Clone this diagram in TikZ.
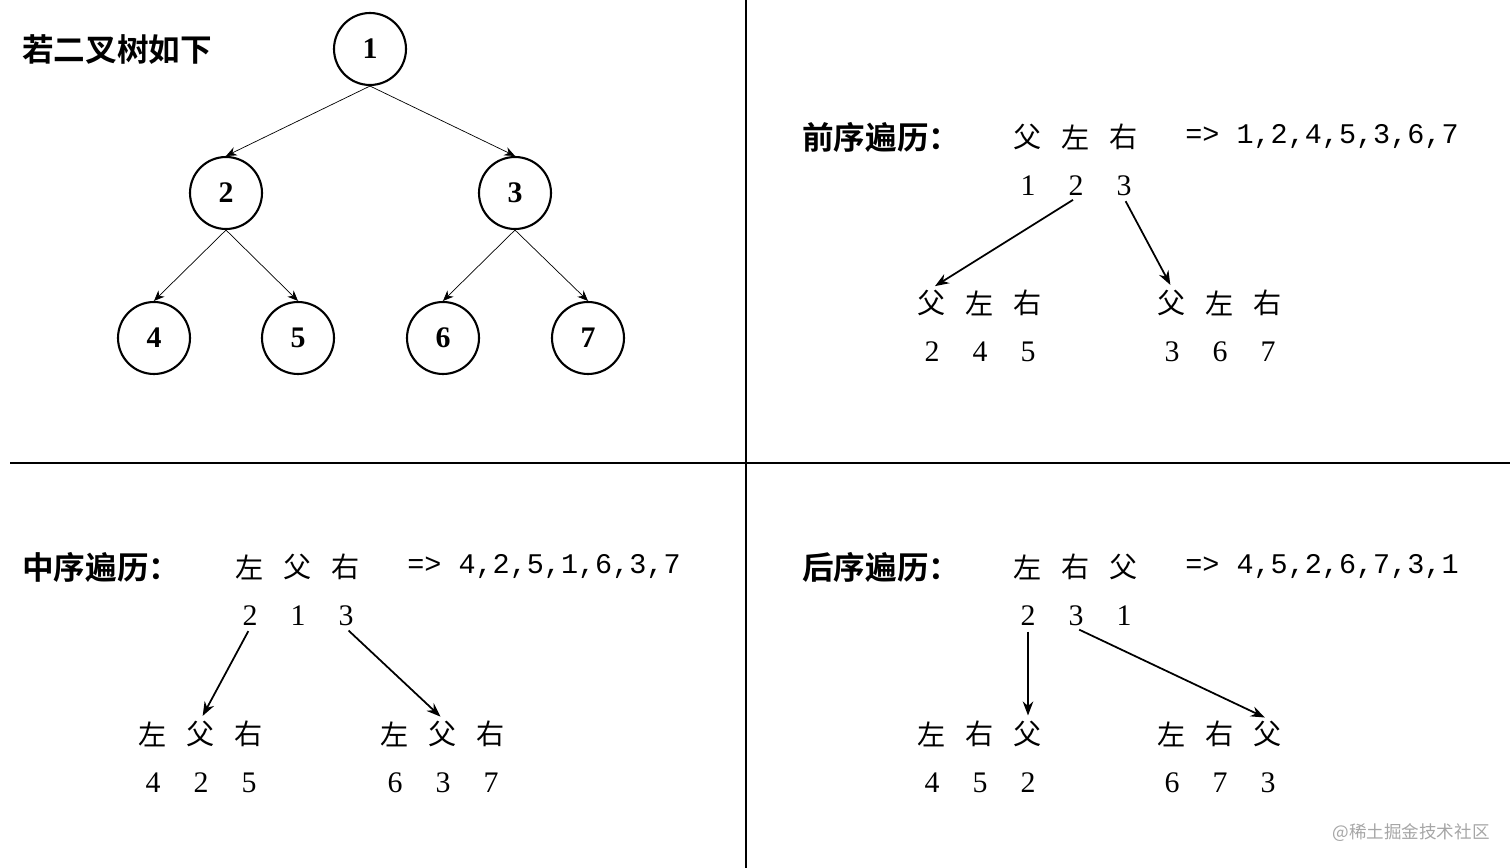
\documentclass[tikz,border=0pt]{standalone}
\usepackage{fontspec}
\setmainfont{Liberation Serif}
\newfontfamily\cjk{Noto Sans CJK SC}
\newfontfamily\cjkb{Noto Sans CJK SC Bold}
\newfontfamily\mono{Liberation Mono}
\usetikzlibrary{arrows.meta}

\begin{document}
\begin{tikzpicture}[x=0.02cm, y=-0.02cm,
    treenode/.style={circle, draw, line width=1.2pt, minimum size=1.44cm, inner sep=0pt, font=\fontsize{17}{20}\selectfont\bfseries},
    tedge/.style={draw, thin, -{Stealth[length=6pt, width=5pt]}},
    arr/.style={draw, line width=1pt, -{Stealth[length=8pt, width=6pt]}, shorten <=2pt, shorten >=2pt},
    hz/.style={font=\fontsize{16}{19}\selectfont\cjk, inner sep=1pt},
    num/.style={font=\fontsize{17}{20}\selectfont, inner sep=1pt},
    title/.style={font=\fontsize{18}{21}\selectfont\cjkb, anchor=west, inner sep=0pt},
    res/.style={font=\fontsize{16.2}{20}\selectfont\mono, anchor=west, inner sep=0pt},
    sep/.style={draw, line width=1pt}
]
\useasboundingbox (0,0) rectangle (1512,868);

% Separators
\draw[sep] (746,0) -- (746,868);
\draw[sep] (10,463) -- (1510,463);

% Tree
\node[title] (head) at (22,50) {若二叉树如下};
\node[treenode] (n1) at (370,49) {1};
\node[treenode] (n2) at (226,193) {2};
\node[treenode] (n3) at (515,193) {3};
\node[treenode] (n4) at (154,338) {4};
\node[treenode] (n5) at (298,338) {5};
\node[treenode] (n6) at (443,338) {6};
\node[treenode] (n7) at (588,338) {7};
\draw[tedge] (n1.south) -- (n2.north);
\draw[tedge] (n1.south) -- (n3.north);
\draw[tedge] (n2.south) -- (n4.north);
\draw[tedge] (n2.south) -- (n5.north);
\draw[tedge] (n3.south) -- (n6.north);
\draw[tedge] (n3.south) -- (n7.north);

% Pre-order
\node[title] (pre) at (802,137) {前序遍历：};
\foreach \t/\d [count=\i] in {父/1,左/2,右/3} {
  \node[hz] (pa\i) at (980+48*\i,137) {\t};
  \node[num] (pb\i) at (980+48*\i,186) {\d};
}
\node[res] (pres) at (1185,137) {=> 1,2,4,5,3,6,7};
\foreach \t/\d [count=\i] in {父/2,左/4,右/5} {
  \node[hz] (pc\i) at (884+48*\i,303) {\t};
  \node[num] (pd\i) at (884+48*\i,352) {\d};
}
\foreach \t/\d [count=\i] in {父/3,左/6,右/7} {
  \node[hz] (pe\i) at (1124+48*\i,303) {\t};
  \node[num] (pf\i) at (1124+48*\i,352) {\d};
}
\draw[arr] (pb2.south) -- (pc1.north);
\draw[arr] (pb3.south) -- (pe1.north);

% In-order
\node[title] (mid) at (22,567) {中序遍历：};
\foreach \t/\d [count=\i] in {左/2,父/1,右/3} {
  \node[hz] (ma\i) at (202+48*\i,567) {\t};
  \node[num] (mb\i) at (202+48*\i,616) {\d};
}
\node[res] (mres) at (407,567) {=> 4,2,5,1,6,3,7};
\foreach \t/\d [count=\i] in {左/4,父/2,右/5} {
  \node[hz] (mc\i) at (105+48*\i,734) {\t};
  \node[num] (md\i) at (105+48*\i,783) {\d};
}
\foreach \t/\d [count=\i] in {左/6,父/3,右/7} {
  \node[hz] (me\i) at (347+48*\i,734) {\t};
  \node[num] (mf\i) at (347+48*\i,783) {\d};
}
\draw[arr] (mb1.south) -- (mc2.north);
\draw[arr] (mb3.south) -- (me2.north);

% Post-order
\node[title] (post) at (802,567) {后序遍历：};
\foreach \t/\d [count=\i] in {左/2,右/3,父/1} {
  \node[hz] (qa\i) at (980+48*\i,567) {\t};
  \node[num] (qb\i) at (980+48*\i,616) {\d};
}
\node[res] (qres) at (1185,567) {=> 4,5,2,6,7,3,1};
\foreach \t/\d [count=\i] in {左/4,右/5,父/2} {
  \node[hz] (qc\i) at (884+48*\i,734) {\t};
  \node[num] (qd\i) at (884+48*\i,783) {\d};
}
\foreach \t/\d [count=\i] in {左/6,右/7,父/3} {
  \node[hz] (qe\i) at (1124+48*\i,734) {\t};
  \node[num] (qf\i) at (1124+48*\i,783) {\d};
}
\draw[arr] (qb1.south) -- (qc3.north);
\draw[arr] (qb2.south) -- (qe3.north);

% Watermark
\node[font=\fontsize{10}{12}\selectfont\cjk, text=gray!70, anchor=east, inner sep=0pt] (mark) at (1490,833) {@稀土掘金技术社区};
\end{tikzpicture}
\end{document}
